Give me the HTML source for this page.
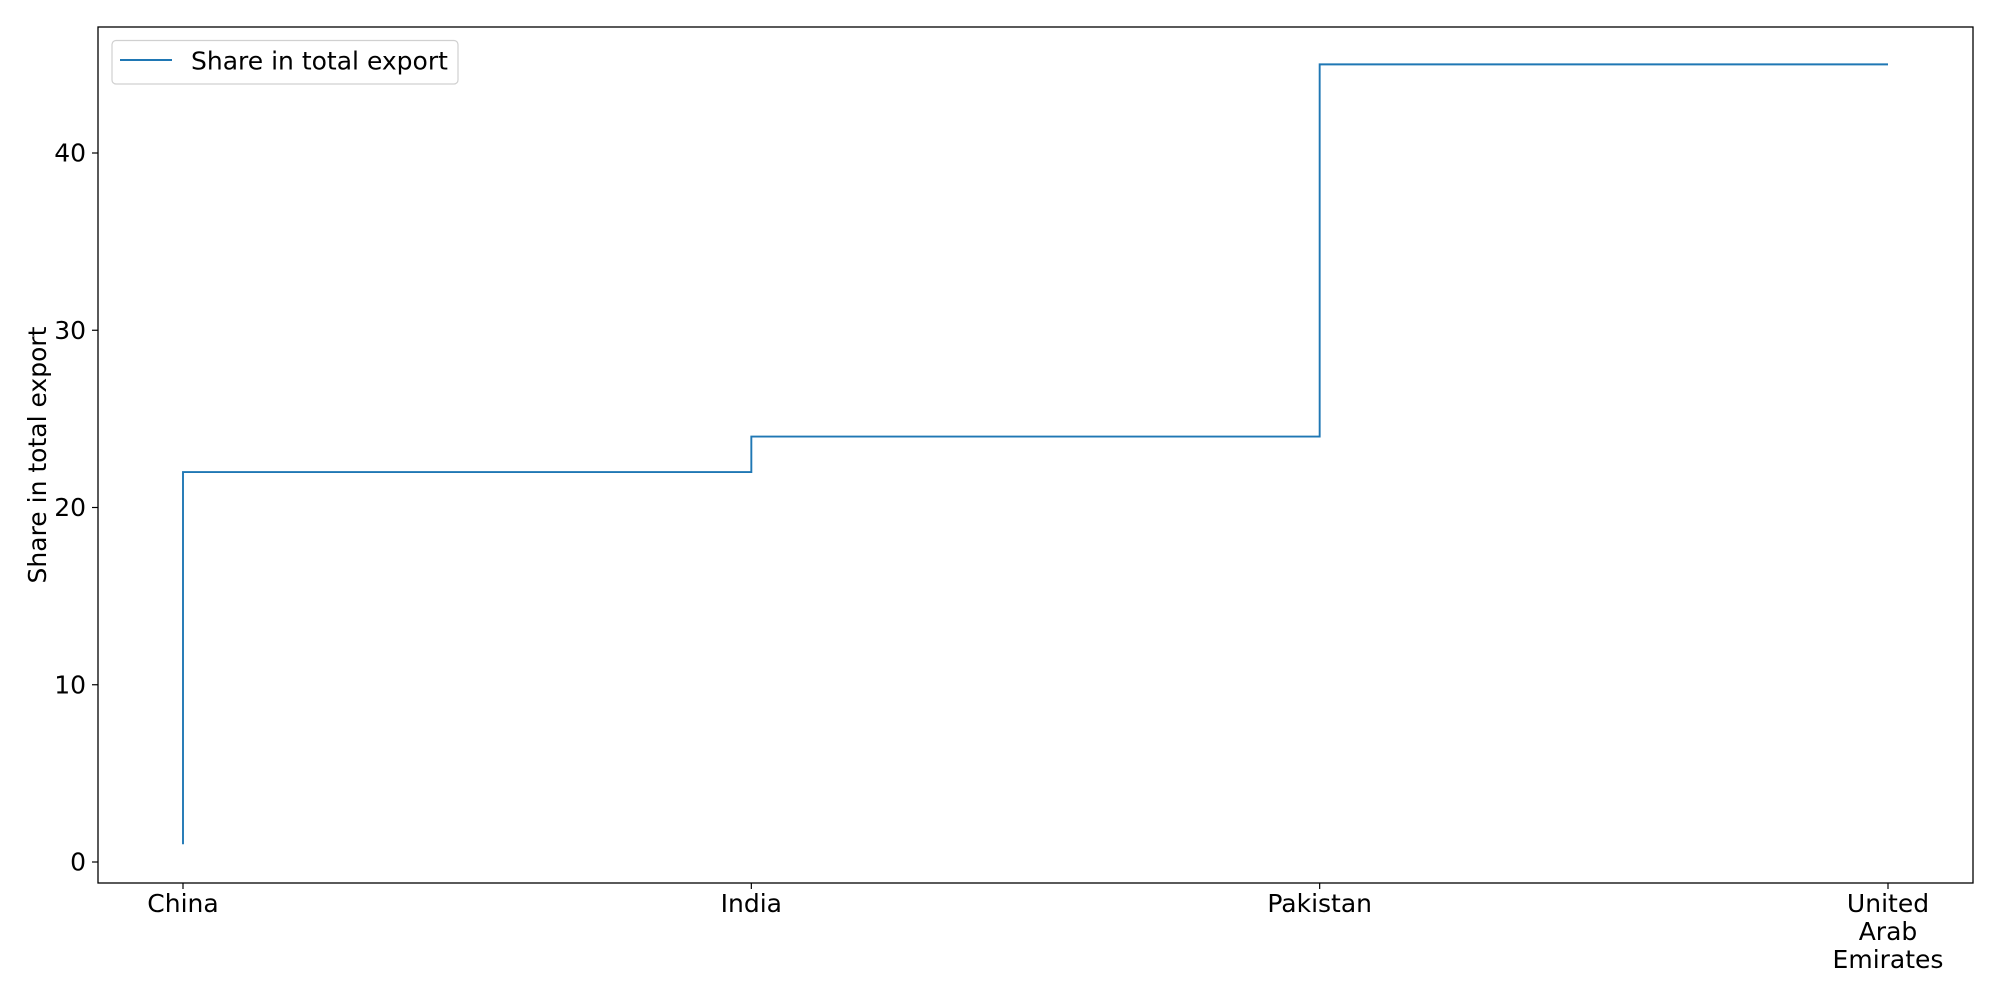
<!DOCTYPE html>
<html><head><meta charset="utf-8"><style>
html,body{margin:0;padding:0;background:#fff;}
svg{display:block;font-family:"DejaVu Sans","Liberation Sans",sans-serif;}
</style></head><body>
<svg id="chart" width="2000" height="1000">
<rect x="0" y="0" width="2000" height="1000" fill="#fff"/>
<g id="plot"></g>
</svg>
<script>
const categories = ["China", "India", "Pakistan", "United Arab Emirates"];
const values = [1, 22, 24, 45];
const yTicks = [0, 10, 20, 30, 40];
const seriesName = "Share in total export";

const NS = "http://www.w3.org/2000/svg";
const g = document.getElementById("plot");
const L = 98, R = 1973, T = 27, B = 883;
const x0 = 183, x1 = 1888;
const FS = 25;
function xScale(i){ return x0 + (x1 - x0) * i / (categories.length - 1); }
function yScale(v){ return 862 - v * 17.725; }
function mk(tag, attrs, parent){
  const e = document.createElementNS(NS, tag);
  for (const k in attrs) e.setAttribute(k, attrs[k]);
  (parent || g).appendChild(e);
  return e;
}

yTicks.forEach(t => {
  const y = yScale(t);
  const ln = mk("line", {x1: L - 6, x2: L, y1: y, y2: y, stroke: "#000", "stroke-width": 1.2});
  
  
  const tx = mk("text", {x: L - 12, y: y + 8.5, "text-anchor": "end", "font-size": FS, fill: "#000"});
  tx.textContent = t;
  
  
});

categories.forEach((c, i) => {
  const x = xScale(i);
  const ln = mk("line", {x1: x, x2: x, y1: B, y2: B + 6, stroke: "#000", "stroke-width": 1.2});
  
  
  const tx = mk("text", {x: x, y: 912, "text-anchor": "middle", "font-size": FS, fill: "#000"});
  
  
  const words = c === "United Arab Emirates" ? c.split(" ") : [c];
  words.forEach((w, k) => {
    const ts = mk("tspan", {x: x, dy: k === 0 ? 0 : 28}, tx);
    ts.textContent = w;
  });
});

let d = "M" + xScale(0) + "," + yScale(values[0]);
for (let i = 1; i < values.length; i++) {
  d += " L" + xScale(i - 1) + "," + yScale(values[i]) + " L" + xScale(i) + "," + yScale(values[i]);
}
const path = mk("path", {d: d, fill: "none", stroke: "#1f77b4", "stroke-width": 1.9});



const frame = mk("rect", {x: L, y: T, width: R - L, height: B - T, fill: "none", stroke: "#000", "stroke-width": 1.3});



const yt = mk("text", {x: 0, y: 0, transform: "translate(46,455) rotate(-90)", "text-anchor": "middle", "font-size": FS, fill: "#000"});
yt.textContent = seriesName;



const lg = mk("g", {});


mk("rect", {x: 112, y: 40.5, width: 346, height: 43.5, rx: 4, fill: "#fff", stroke: "#d0d0d0", "stroke-width": 1.2}, lg);
const ll = mk("line", {x1: 120, x2: 172, y1: 60, y2: 60, stroke: "#1f77b4", "stroke-width": 1.9}, lg);


const lt = mk("text", {x: 191, y: 69.5, "font-size": FS, fill: "#000"}, lg);
lt.textContent = seriesName;


</script>
</body></html>
